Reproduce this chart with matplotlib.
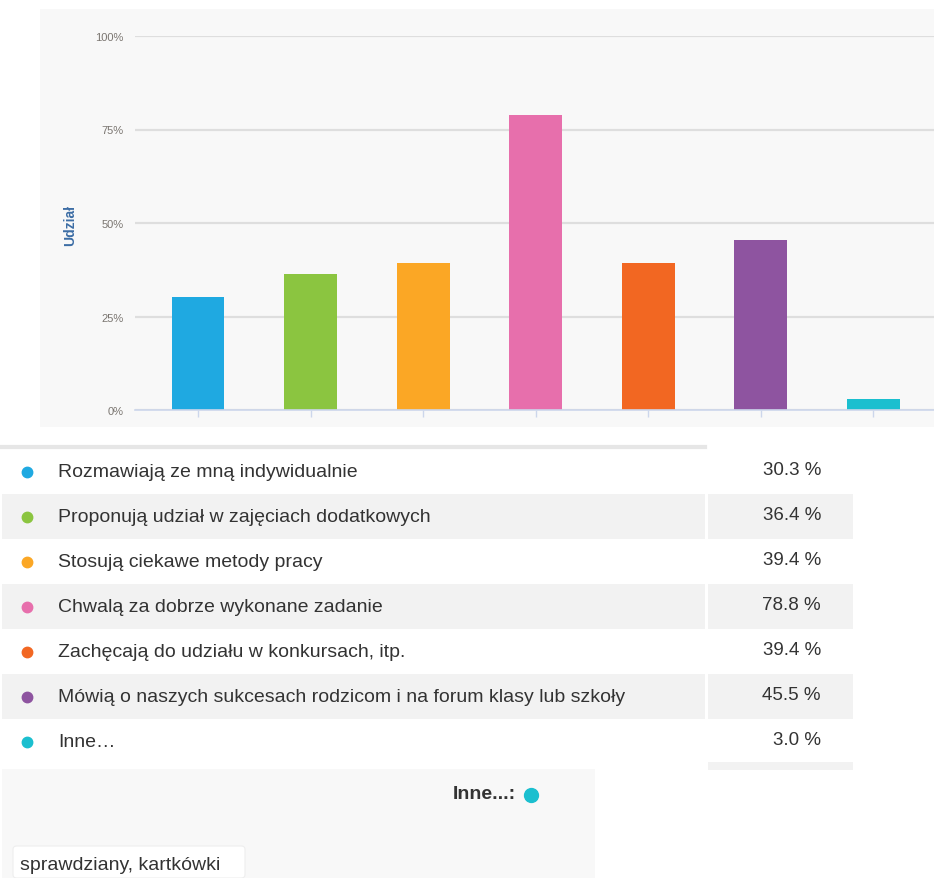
import matplotlib
matplotlib.use("Agg")
import matplotlib.pyplot as plt
from matplotlib.patches import Rectangle, FancyBboxPatch

W, H = 934, 879

kategorie = [
    "Rozmawiają ze mną indywidualnie",
    "Proponują udział w zajęciach dodatkowych",
    "Stosują ciekawe metody pracy",
    "Chwalą za dobrze wykonane zadanie",
    "Zachęcają do udziału w konkursach, itp.",
    "Mówią o naszych sukcesach rodzicom i na forum klasy lub szkoły",
    "Inne…",
]
udzial = [30.3, 36.4, 39.4, 78.8, 39.4, 45.5, 3.0]
kolory = ["#1fa9e1", "#8bc540", "#fba725", "#e76fac", "#f26722", "#8e54a0", "#1bbfcf"]
y_ticks = [0, 25, 50, 75, 100]
y_tick_labels = ["0%", "25%", "50%", "75%", "100%"]
inne_odpowiedzi = ["sprawdziany, kartkówki"]

plt.rcParams["font.family"] = ["Liberation Sans", "DejaVu Sans"]


def fx(x):
    return x / W


def fy(y):
    return 1 - y / H


def rect_px(fig, x0, y0, x1, y1, color, z=-1):
    fig.patches.append(Rectangle((fx(x0), fy(y1)), fx(x1) - fx(x0), fy(y0) - fy(y1),
                                 transform=fig.transFigure, facecolor=color,
                                 edgecolor="none", zorder=z))


fig = plt.figure(figsize=(W / 100, H / 100), dpi=100)
fig.patch.set_facecolor("white")

# tło wykresu
rect_px(fig, 40, 10, 934, 428, "#f8f8f8")

ax = fig.add_axes([fx(135), fy(411), fx(934) - fx(135), fy(37) - fy(411)])
ax.set_zorder(2)
ax.set_facecolor("none")
x = list(range(len(udzial)))
ax.bar(x, udzial, width=0.47, color=kolory, zorder=3)
ax.set_xlim(-0.56, 6.54)
ax.set_ylim(0, 100)
ax.set_yticks(y_ticks)
ax.set_yticklabels(y_tick_labels, fontsize=8, color="#7a7570")
ax.set_xticks(x)
ax.set_xticklabels([])
ax.tick_params(axis="y", length=0, pad=8)
ax.tick_params(axis="x", length=5, color="#ccd6eb", width=1)
ax.grid(True, axis="y", color="#dedede", linewidth=1.6, zorder=0)
for s in ["top", "right", "left"]:
    ax.spines[s].set_visible(False)
ax.spines["bottom"].set_color("#ccd6eb")
ax.spines["bottom"].set_linewidth(1.2)
ax.spines["bottom"].set_zorder(4)
fig.text(fx(70), fy(225), "Udział", rotation=90, ha="center", va="center",
         fontsize=10, color="#3c6da5", fontweight="bold")

# tabela
row_h = 45
top = 450
fig.lines.append(plt.Line2D([fx(2), fx(705)], [fy(448), fy(448)], transform=fig.transFigure,
                            color="#e6e6e6", linewidth=3))
for i, (kat, val, kol) in enumerate(zip(kategorie, udzial, kolory)):
    y0 = top + i * row_h
    yc = y0 + row_h / 2
    if i % 2 == 1:
        rect_px(fig, 2, y0, 705, y0 + row_h, "#f2f2f2")
        rect_px(fig, 708, y0, 853, y0 + row_h, "#f2f2f2")
    fig.lines.append(plt.Line2D([fx(27)], [fy(yc)], marker="o", markersize=7.5,
                                color=kol, transform=fig.transFigure))
    fig.text(fx(58), fy(yc), kat, ha="left", va="center", fontsize=14, color="#333333")
    fig.text(fx(821), fy(yc - 2), f"{val:.1f} %", ha="right", va="center",
             fontsize=13.5, color="#333333")
rect_px(fig, 708, top + 7 * row_h - 2, 853, top + 7 * row_h + 6, "#f2f2f2")

# pole odpowiedzi "Inne"
rect_px(fig, 2, 770, 595, 879, "#f8f8f8")
fig.text(fx(516), fy(795), "Inne...:", ha="right", va="center", fontsize=14,
         fontweight="bold", color="#333333")
fig.lines.append(plt.Line2D([fx(531)], [fy(796)], marker="o", markersize=10,
                            color=kolory[6], transform=fig.transFigure))
fig.patches.append(FancyBboxPatch((fx(13), fy(879)), fx(245) - fx(13), fy(847) - fy(879),
                                  boxstyle="round,pad=0,rounding_size=0.004",
                                  transform=fig.transFigure, facecolor="white",
                                  edgecolor="#eeeeee", linewidth=0.8))
fig.text(fx(20), fy(866), inne_odpowiedzi[0], ha="left", va="center", fontsize=14,
         color="#333333")

fig.savefig("out.png", dpi=100)
